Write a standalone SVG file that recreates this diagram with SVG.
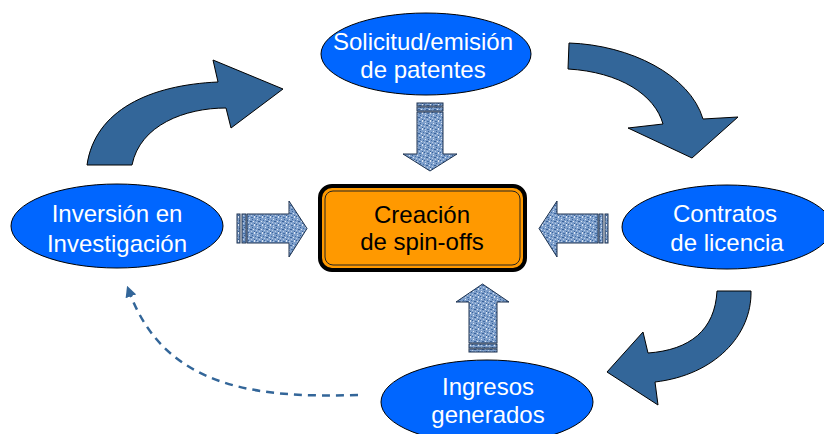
<svg xmlns="http://www.w3.org/2000/svg" width="824" height="434" viewBox="0 0 824 434">
<defs>
<pattern id="tex" width="8" height="8" patternUnits="userSpaceOnUse">
<rect width="8" height="8" fill="#7E9FCB"/>
<rect x="0" y="0" width="1" height="1" fill="#3A6299"/>
<rect x="3" y="1" width="2" height="1" fill="#446FA6"/>
<rect x="6" y="0" width="1" height="2" fill="#DCE6F3"/>
<rect x="1" y="3" width="1" height="1" fill="#DCE6F3"/>
<rect x="4" y="3" width="1" height="1" fill="#3A6299"/>
<rect x="7" y="4" width="1" height="1" fill="#446FA6"/>
<rect x="2" y="5" width="2" height="1" fill="#3A6299"/>
<rect x="5" y="5" width="1" height="1" fill="#DCE6F3"/>
<rect x="0" y="6" width="1" height="1" fill="#B9CCE5"/>
<rect x="6" y="7" width="1" height="1" fill="#3A6299"/>
<rect x="3" y="7" width="1" height="1" fill="#B9CCE5"/>
<rect x="1" y="1" width="1" height="1" fill="#B9CCE5"/>
</pattern>
<marker id="ah" viewBox="0 0 10 10" refX="5" refY="5" markerWidth="4.5" markerHeight="4.5" orient="auto-start-reverse">
<path d="M0,0 L10,5 L0,10 Z" fill="#336699"/>
</marker>
<style>
.oval{fill:#0066FF;stroke:#000;stroke-width:1}
.wt{fill:#fff;font-family:"Liberation Sans",Arial,sans-serif;font-size:24px;text-anchor:middle}
.bt{fill:#000;font-family:"Liberation Sans",Arial,sans-serif;font-size:24px;text-anchor:middle}
.curv{fill:#336699;stroke:#000;stroke-width:1}
.tex{fill:url(#tex);stroke:#1E3350;stroke-width:1}
</style>
</defs>
<g id="connectors">
<path class="curv" d="M87,165 C95,110 150,85 218,82 L213,60 L283,89 L231,128 L226,108 C185,108 140,125 132,165 Z"/>
<path class="curv" d="M569,43 C630,45 690,75 703,119 L738,117 L692,158 L628,128 L663,124 C655,95 620,72 568,69 Z"/>
<path class="curv" d="M717,291 L751,291 C752,335 715,375 655,382 L658,405 L607,372 L643,332 L648,353 C690,350 715,330 717,291 Z"/>
<path d="M358,395 C260,398 165,390 129,291" fill="none" stroke="#336699" stroke-width="2.5" stroke-dasharray="8,6" marker-end="url(#ah)"/>
<g id="arrow-top">
<rect class="tex" x="417" y="103" width="26" height="3"/>
<rect class="tex" x="417" y="107" width="26" height="4"/>
<polygon class="tex" points="417,112 443,112 443,154 457,154 430,171 403,154 417,154"/>
</g>
<g id="arrow-left">
<rect class="tex" x="237" y="214" width="3" height="29"/>
<rect class="tex" x="242" y="214" width="4" height="29"/>
<polygon class="tex" points="247,214 289,214 289,201 307,228.5 289,257 289,243 247,243"/>
</g>
<g id="arrow-right">
<rect class="tex" x="605" y="214" width="3" height="29"/>
<rect class="tex" x="599" y="214" width="4" height="29"/>
<polygon class="tex" points="598,214 557,214 557,201 539,228.5 557,257 557,243 598,243"/>
</g>
<g id="arrow-bottom">
<rect class="tex" x="469" y="349" width="28" height="3"/>
<rect class="tex" x="469" y="344" width="28" height="4"/>
<polygon class="tex" points="469,343 469,302 456,302 482.5,284 509,302 497,302 497,343"/>
</g>
</g>
<g id="node-patentes">
<ellipse class="oval" cx="426" cy="54" rx="105" ry="41"/>
<text class="wt" x="423" y="50">Solicitud/emisión</text>
<text class="wt" x="423" y="78">de patentes</text>
</g>
<g id="node-inversion">
<ellipse class="oval" cx="117" cy="226" rx="106" ry="42"/>
<text class="wt" x="117" y="222">Inversión en</text>
<text class="wt" x="117" y="252">Investigación</text>
</g>
<g id="node-contratos">
<ellipse class="oval" cx="727" cy="227" rx="105" ry="42"/>
<text class="wt" x="725" y="222">Contratos</text>
<text class="wt" x="727" y="251">de licencia</text>
</g>
<g id="node-ingresos">
<ellipse class="oval" cx="487" cy="402" rx="106" ry="42"/>
<text class="wt" x="488" y="395">Ingresos</text>
<text class="wt" x="488" y="423">generados</text>
</g>
<g id="node-spinoffs">
<rect x="320" y="186" width="205" height="84" rx="12" fill="#FF9900" stroke="#000" stroke-width="4"/>
<rect x="325" y="191" width="195" height="74" rx="8" fill="none" stroke="#222" stroke-width="1"/>
<text class="bt" x="422" y="223">Creación</text>
<text class="bt" x="422" y="250">de spin-offs</text>
</g>
</svg>
